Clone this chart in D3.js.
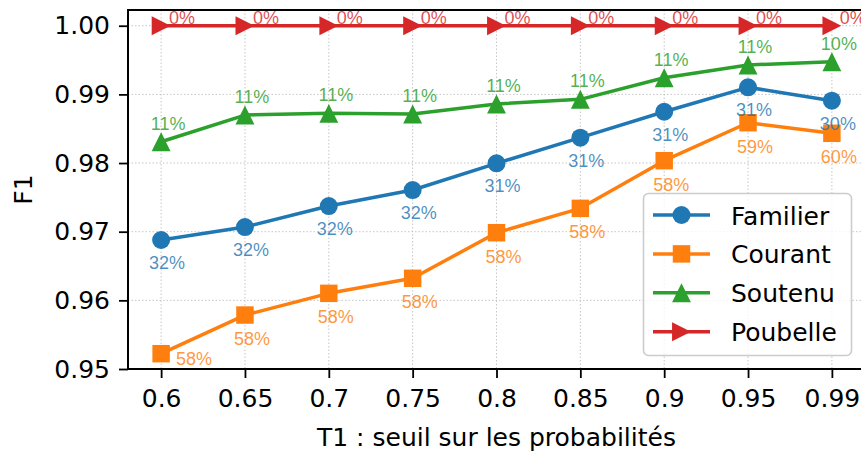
<!DOCTYPE html>
<html>
<head>
<meta charset="utf-8">
<script src="https://cdn.jsdelivr.net/npm/d3@7/dist/d3.min.js"></script>
<style>
  html, body { margin: 0; padding: 0; background: #fff; }
  svg { display: block; font-family: "DejaVu Sans", sans-serif; }
</style>
</head>
<body>
<script>
// ---- data ----
const thresholds = ["0.6", "0.65", "0.7", "0.75", "0.8", "0.85", "0.9", "0.95", "0.99"];
const familier = [0.96879, 0.97068, 0.97374, 0.97607, 0.97996, 0.98369, 0.98747, 0.99103, 0.98908];
const courant  = [0.95223, 0.95786, 0.96102, 0.96321, 0.96985, 0.97340, 0.98034, 0.98587, 0.98433];
const soutenu  = [0.98310, 0.98699, 0.98724, 0.98714, 0.98860, 0.98928, 0.99243, 0.99428, 0.99476];
const poubelle = [1.0, 1.0, 1.0, 1.0, 1.0, 1.0, 1.0, 1.0, 1.0];
const familierPct = [32, 32, 32, 32, 31, 31, 31, 31, 30];
const courantPct  = [58, 58, 58, 58, 58, 58, 58, 59, 60];
const soutenuPct  = [11, 11, 11, 11, 11, 11, 11, 11, 10];
const poubellePct = [0, 0, 0, 0, 0, 0, 0, 0, 0];
const yTicks = [0.95, 0.96, 0.97, 0.98, 0.99, 1.00];
const seriesNames = ["Familier", "Courant", "Soutenu", "Poubelle"];

// ---- layout ----
const W = 861, H = 453;
const L = 128, R = 865, T = 10, B = 369;
const svg = d3.select("body").append("svg").attr("width", W).attr("height", H);

const x = d3.scalePoint().domain(thresholds).range([L, R]).padding(0.395);
const y = d3.scaleLinear().domain([0.95, 1.00229]).range([B, T]);

const colors = ["#1f77b4", "#ff7f0e", "#2ca02c", "#d62728"];
const symbols = ["circle", "square", "triUp", "triRight"];
const series = [
  { name: seriesNames[0], vals: familier, pct: familierPct, color: colors[0], sym: symbols[0], dx: 6, dy: 29 },
  { name: seriesNames[1], vals: courant,  pct: courantPct,  color: colors[1], sym: symbols[1], dx: 7, dy: 30 },
  { name: seriesNames[2], vals: soutenu,  pct: soutenuPct,  color: colors[2], sym: symbols[2], dx: 7, dy: -12 },
  { name: seriesNames[3], vals: poubelle, pct: poubellePct, color: colors[3], sym: symbols[3], dx: 21, dy: -2 }
];

// grid
const grid = svg.append("g");
grid.selectAll("line.gx").data(thresholds).join("line")
  .attr("x1", d => x(d)).attr("x2", d => x(d)).attr("y1", T).attr("y2", B)
  .attr("stroke", "#b8b8b8").attr("stroke-width", 0.8).attr("stroke-dasharray", "1.5,2");
grid.selectAll("line.gy").data(yTicks).join("line")
  .attr("x1", L).attr("x2", R).attr("y1", d => y(d)).attr("y2", d => y(d))
  .attr("stroke", "#b8b8b8").attr("stroke-width", 0.8).attr("stroke-dasharray", "1.5,2");

// axes
const xAxis = svg.append("g").attr("transform", `translate(0,${B})`)
  .call(d3.axisBottom(x).tickSize(9).tickPadding(11));
const yAxis = svg.append("g").attr("transform", `translate(${L},0)`)
  .call(d3.axisLeft(y).tickValues(yTicks).tickFormat(d3.format(".2f")).tickSize(9).tickPadding(9));
[xAxis, yAxis].forEach(a => {
  a.select(".domain").remove();
  a.selectAll(".tick line").attr("stroke", "#000").attr("stroke-width", 1.8);
  a.selectAll(".tick text").attr("font-size", 25).attr("fill", "#000").attr("font-family", "DejaVu Sans");
});

// spines
svg.append("rect").attr("x", L).attr("y", T).attr("width", R - L).attr("height", B - T)
  .attr("fill", "none").attr("stroke", "#000").attr("stroke-width", 2);

function drawMarker(g, sym, cx, cy, color, r) {
  if (sym === "circle") {
    g.append("circle").attr("cx", cx).attr("cy", cy).attr("r", r).attr("fill", color);
  } else if (sym === "square") {
    g.append("rect").attr("x", cx - r * 0.97).attr("y", cy - r * 0.97)
      .attr("width", r * 1.94).attr("height", r * 1.94).attr("fill", color);
  } else if (sym === "triUp") {
    const s = r * 1.05;
    g.append("path").attr("d", `M${cx},${cy - s}L${cx + s},${cy + s}L${cx - s},${cy + s}Z`).attr("fill", color);
  } else {
    const s = r * 1.05;
    g.append("path").attr("d", `M${cx + s},${cy}L${cx - s},${cy - s}L${cx - s},${cy + s}Z`).attr("fill", color);
  }
}

// lines + markers
const line = d3.line().x((d, i) => x(thresholds[i])).y(d => y(d));
series.forEach(s => {
  const g = svg.append("g");
  g.append("path").attr("d", line(s.vals)).attr("fill", "none")
    .attr("stroke", s.color).attr("stroke-width", 3.5).attr("stroke-linejoin", "round");
  s.vals.forEach((v, i) => drawMarker(g, s.sym, x(thresholds[i]), y(v), s.color, 9));
});

// percentage labels
series.forEach((s, si) => {
  s.vals.forEach((v, i) => {
    let dx = s.dx, dy = s.dy;
    if (si === 1 && i === 0) { dx = 33; dy = 11; }
    svg.append("text")
      .attr("x", x(thresholds[i]) + dx).attr("y", y(v) + dy)
      .attr("text-anchor", "middle").attr("font-size", 18)
      .attr("font-family", "Liberation Sans, Arial, sans-serif")
      .attr("fill", s.color).attr("fill-opacity", 0.82)
      .text(s.pct[i] + "%");
  });
});

// axis labels
svg.append("text").attr("x", (L + R) / 2).attr("y", 446).attr("text-anchor", "middle")
  .attr("font-size", 25).attr("fill", "#000").text("T1 : seuil sur les probabilités");
svg.append("text").attr("transform", `translate(32,${(T + B) / 2}) rotate(-90)`)
  .attr("text-anchor", "middle").attr("font-size", 25).attr("fill", "#000").text("F1");

// legend
const lg = svg.append("g");
lg.append("rect").attr("x", 643.5).attr("y", 193.5).attr("width", 208).attr("height", 162)
  .attr("rx", 5).attr("fill", "#fff").attr("fill-opacity", 0.8)
  .attr("stroke", "#cccccc").attr("stroke-width", 1.6);
series.forEach((s, i) => {
  const cy = 215 + i * 38.9;
  lg.append("line").attr("x1", 653).attr("x2", 710).attr("y1", cy).attr("y2", cy)
    .attr("stroke", s.color).attr("stroke-width", 3.5);
  drawMarker(lg, s.sym, 681.5, cy, s.color, 9);
  lg.append("text").attr("x", 731).attr("y", cy + 9.5).attr("font-size", 25)
    .attr("fill", "#000").text(s.name);
});
</script>
</body>
</html>
